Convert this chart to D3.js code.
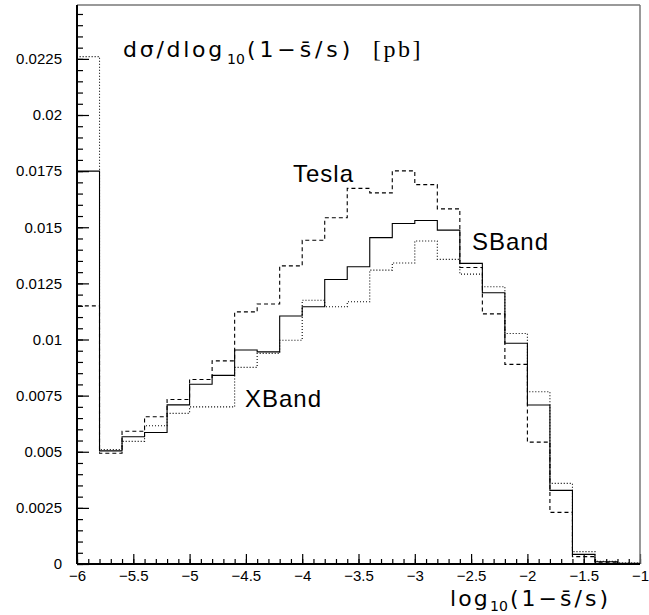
<!DOCTYPE html>
<html>
<head>
<meta charset="utf-8">
<script src="https://cdn.jsdelivr.net/npm/d3@7"></script>
<style>
  html, body { margin: 0; padding: 0; background: #fff; }
  svg { display: block; }
  .tick text { font-family: "Liberation Sans", Arial, sans-serif; font-size: 15px; fill: #000; }
  .lbl { font-family: "Liberation Sans", Arial, sans-serif; fill: #000; }
  .wide { font-family: "DejaVu Sans", sans-serif; fill: #000; }
</style>
</head>
<body>
<script>
// bin left edges, log10(1 - sbar/s)
const binStart = [-6, -5.8, -5.6, -5.4, -5.2, -5, -4.8, -4.6, -4.4, -4.2, -4, -3.8, -3.6,
  -3.4, -3.2, -3, -2.8, -2.6, -2.4, -2.2, -2, -1.8, -1.6, -1.4, -1.2]
const binEnd = -1

// d sigma / d log10(1 - sbar/s) [pb]
const sband = [0.0175, 0.00504, 0.00567, 0.00586, 0.00709, 0.00801, 0.0084, 0.00953, 0.00945,
  0.01105, 0.01146, 0.01267, 0.01324, 0.01454, 0.01517, 0.0153, 0.01487, 0.01339, 0.01208,
  0.00983, 0.00708, 0.00328, 0.00043, 0.0001, 0.00003]
const tesla = [0.0115, 0.00493, 0.00591, 0.00656, 0.00733, 0.00822, 0.00905, 0.01123, 0.01158,
  0.01328, 0.01442, 0.01542, 0.01673, 0.01653, 0.01751, 0.0169, 0.01582, 0.01321, 0.01114,
  0.00889, 0.00543, 0.0023, 0.00033, 0.00008, 0.00002]
const xband = [0.0226, 0.0051, 0.00546, 0.00616, 0.00671, 0.007, 0.007, 0.00876, 0.00938,
  0.00997, 0.01175, 0.01146, 0.01168, 0.01309, 0.01341, 0.01439, 0.01357, 0.01291, 0.01235,
  0.01027, 0.00767, 0.00359, 0.00055, 0.00012, 0.00004]

const xTicks = [-6, -5.5, -5, -4.5, -4, -3.5, -3, -2.5, -2, -1.5, -1]
const yTicks = [0, 0.0025, 0.005, 0.0075, 0.01, 0.0125, 0.015, 0.0175, 0.02, 0.0225]
const yMax = 0.0249

const width = 649
const height = 615
const margin = { top: 5, right: 9, bottom: 51, left: 77 }

const svg = d3.select('body').append('svg').attr('width', width).attr('height', height)

const x = d3.scaleLinear().domain([-6, -1]).range([margin.left, width - margin.right])
const y = d3.scaleLinear().domain([0, yMax]).range([height - margin.bottom, margin.top])

const fmtMinus = (d) => String(d).replace('-', '\u2212')
const fmtY = (d) => (d === 0 ? '0' : String(+d.toFixed(4)))

// stretch a text/tspan to a target width with letter spacing (the original font is wide)
function fit(sel, target) {
  const node = sel.node()
  const n = node.getNumberOfChars()
  const w = node.getComputedTextLength()
  sel.attr('letter-spacing', Math.max(0, (target - w) / n))
  return sel
}

// minor ticks
const xMinor = d3.range(-6, -0.999, 0.1).map((d) => +d.toFixed(1))
const yMinor = d3.range(0, yMax, 0.0005).map((d) => +d.toFixed(4))

svg.append('g')
  .attr('transform', `translate(0,${y(0)})`)
  .call(d3.axisBottom(x).tickValues(xMinor).tickSize(-5).tickFormat(''))
  .call((g) => g.select('.domain').remove())
svg.append('g')
  .attr('transform', `translate(0,${y(0)})`)
  .call(d3.axisBottom(x).tickValues(xTicks).tickSize(-10).tickPadding(6).tickFormat(fmtMinus))
  .call((g) => g.select('.domain').remove())

svg.append('g')
  .attr('transform', `translate(${x(-6)},0)`)
  .call(d3.axisLeft(y).tickValues(yMinor).tickSize(-6).tickFormat(''))
  .call((g) => g.select('.domain').remove())
svg.append('g')
  .attr('transform', `translate(${x(-6)},0)`)
  .call(d3.axisLeft(y).tickValues(yTicks).tickSize(-12).tickPadding(15).tickFormat(fmtY))
  .call((g) => g.select('.domain').remove())

svg.selectAll('.tick line').attr('stroke', '#000').attr('stroke-width', 1.2)

// frame
svg.append('line').attr('x1', x(-6)).attr('x2', x(-1)).attr('y1', y(yMax)).attr('y2', y(yMax))
  .attr('stroke', '#777').attr('stroke-width', 1.5)
svg.append('line').attr('x1', x(-1)).attr('x2', x(-1)).attr('y1', y(yMax)).attr('y2', y(0))
  .attr('stroke', '#777').attr('stroke-width', 1.5)
svg.append('line').attr('x1', x(-6)).attr('x2', x(-6)).attr('y1', y(yMax)).attr('y2', y(0))
  .attr('stroke', '#000').attr('stroke-width', 2)
svg.append('line').attr('x1', x(-6)).attr('x2', x(-1)).attr('y1', y(0)).attr('y2', y(0))
  .attr('stroke', '#000').attr('stroke-width', 2)

// histograms
const step = d3.line().x((d) => x(d[0])).y((d) => y(d[1])).curve(d3.curveStepAfter)
function histPoints(vals) {
  const pts = [[binStart[0], 0]]
  vals.forEach((v, i) => pts.push([binStart[i], v]))
  pts.push([binEnd, vals[vals.length - 1]])
  return pts
}

const series = [
  { name: 'Tesla', vals: tesla, dash: '4,3' },
  { name: 'XBand', vals: xband, dash: '1,2' },
  { name: 'SBand', vals: sband, dash: null },
]
series.forEach((s) => {
  svg.append('path')
    .attr('d', step(histPoints(s.vals)))
    .attr('fill', 'none')
    .attr('stroke', '#000')
    .attr('stroke-width', 1.1)
    .attr('stroke-dasharray', s.dash)
})

// labels
svg.append('text').attr('class', 'lbl').attr('x', 293).attr('y', 182)
  .attr('font-size', 24).attr('letter-spacing', 1).text('Tesla')
svg.append('text').attr('class', 'lbl').attr('x', 472).attr('y', 250)
  .attr('font-size', 24).attr('letter-spacing', 1).text('SBand')
svg.append('text').attr('class', 'lbl').attr('x', 245).attr('y', 407)
  .attr('font-size', 24).attr('letter-spacing', 1).text('XBand')

// title
const title = svg.append('text').attr('class', 'wide').attr('y', 57).attr('font-size', 22)
fit(title.append('tspan').attr('x', 123).text('d\u03c3/dlog'), 102)
title.append('tspan').attr('x', 227).attr('font-size', 14).attr('dy', 7).text('10')
fit(title.append('tspan').attr('x', 247).attr('dy', -7).text('(1\u2212s\u0304/s)'), 111)
fit(title.append('tspan').attr('x', 373).attr('font-family', '"Liberation Serif", serif')
  .attr('font-size', 24).text('[pb]'), 50)

// x axis title
const xt = svg.append('text').attr('class', 'wide').attr('y', 606).attr('font-size', 22)
fit(xt.append('tspan').attr('x', 450).text('log'), 40)
xt.append('tspan').attr('x', 490).attr('font-size', 14).attr('dy', 5).text('10')
fit(xt.append('tspan').attr('x', 510).attr('dy', -5).text('(1\u2212s\u0304/s)'), 104)
</script>
</body>
</html>
